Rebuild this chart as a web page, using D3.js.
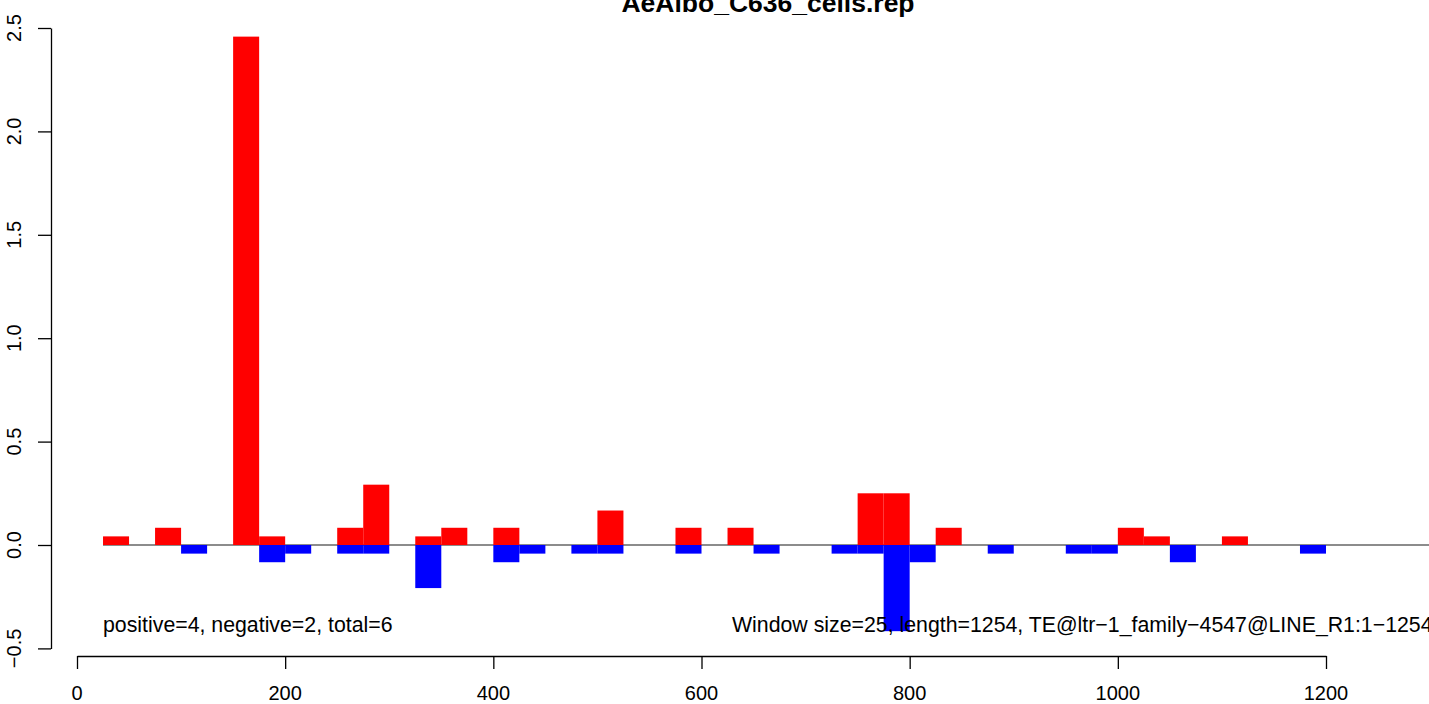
<!DOCTYPE html>
<html>
<head>
<meta charset="utf-8">
<script src="https://cdn.jsdelivr.net/npm/d3@7"></script>
<style>
  html, body { margin: 0; padding: 0; background: #fff; }
  svg { display: block; font-family: "Liberation Sans", Arial, sans-serif; }
</style>
</head>
<body>
<svg id="chart" width="1429" height="704"></svg>
<script>
// ---- data ----
const title = "AeAlbo_C636_cells.rep";
const windowSize = 25;
const posStarts = [25, 75, 150, 175, 250, 275, 325, 350, 400, 500, 575, 625, 750, 775, 825, 1000, 1025, 1100];
const posValues = [0.0417, 0.0833, 2.4583, 0.0417, 0.0833, 0.2917, 0.0417, 0.0833, 0.0833, 0.1667, 0.0833, 0.0833, 0.25, 0.25, 0.0833, 0.0833, 0.0417, 0.0417];
const negStarts = [100, 175, 200, 250, 275, 325, 400, 425, 475, 500, 575, 650, 725, 750, 775, 800, 875, 950, 975, 1050, 1175];
const negValues = [-0.0417, -0.0833, -0.0417, -0.0417, -0.0417, -0.2083, -0.0833, -0.0417, -0.0417, -0.0417, -0.0417, -0.0417, -0.0417, -0.0417, -0.4167, -0.0833, -0.0417, -0.0417, -0.0417, -0.0833, -0.0417];
const xTicks = [0, 200, 400, 600, 800, 1000, 1200];
const yTicks = [-0.5, 0.0, 0.5, 1.0, 1.5, 2.0, 2.5];
const zeroLineRange = [25, 1400];
const leftNote = "positive=4, negative=2, total=6";
const rightNote = "Window size=25, length=1254, TE@ltr\u22121_family\u22124547@LINE_R1:1\u22121254";

// ---- layout ----
const svg = d3.select("#chart");
const x = d3.scaleLinear().domain([0, 1200]).range([77, 1326]);
const y = d3.scaleLinear().domain([-0.5, 2.5]).range([648.4, 28]);
const fmtY = d => d3.format(".1f")(d).replace("-", "\u2212");

// zero line
svg.append("line")
  .attr("x1", x(zeroLineRange[0])).attr("x2", x(zeroLineRange[1]))
  .attr("y1", y(0)).attr("y2", y(0))
  .attr("stroke", "#666").attr("stroke-width", 1.3);

// bars
const pos = posStarts.map((s, i) => ({s, v: posValues[i]}));
const neg = negStarts.map((s, i) => ({s, v: negValues[i]}));
svg.append("g").selectAll("rect").data(pos).join("rect")
  .attr("x", d => x(d.s)).attr("width", d => x(d.s + windowSize) - x(d.s))
  .attr("y", d => y(d.v)).attr("height", d => y(0) - y(d.v))
  .attr("fill", "#ff0000");
svg.append("g").selectAll("rect").data(neg).join("rect")
  .attr("x", d => x(d.s)).attr("width", d => x(d.s + windowSize) - x(d.s))
  .attr("y", d => y(0)).attr("height", d => y(d.v) - y(0))
  .attr("fill", "#0000ff");

// y axis
const yAxis = svg.append("g").attr("transform", "translate(51,0)")
  .call(d3.axisLeft(y).tickValues(yTicks).tickSize(13).tickSizeOuter(0).tickFormat(""));
yAxis.selectAll("path, line").attr("stroke", "#000").attr("stroke-width", 1.3);
svg.append("g").selectAll("text").data(yTicks).join("text")
  .attr("transform", d => `translate(14,${y(d)}) rotate(-90)`)
  .attr("text-anchor", "middle").attr("dy", "0.35em")
  .attr("font-size", 20).attr("fill", "#000")
  .text(fmtY);

// x axis
const xAxis = svg.append("g").attr("transform", "translate(0,656)")
  .call(d3.axisBottom(x).tickValues(xTicks).tickSize(13).tickSizeOuter(0).tickFormat(""));
xAxis.selectAll("path, line").attr("stroke", "#000").attr("stroke-width", 1.3);
svg.append("g").selectAll("text").data(xTicks).join("text")
  .attr("x", d => x(d)).attr("y", 700)
  .attr("text-anchor", "middle")
  .attr("font-size", 20).attr("fill", "#000")
  .text(d => d);

// notes
svg.append("text").attr("x", x(25)).attr("y", 632)
  .attr("font-size", 21.3).attr("fill", "#000").text(leftNote);
svg.append("text").attr("x", 732).attr("y", 632)
  .attr("font-size", 21.3).attr("fill", "#000").text(rightNote);

// title
svg.append("text").attr("x", 768).attr("y", 12)
  .attr("text-anchor", "middle").attr("font-weight", "bold")
  .attr("font-size", 26.5).attr("fill", "#000").text(title);
</script>
</body>
</html>
